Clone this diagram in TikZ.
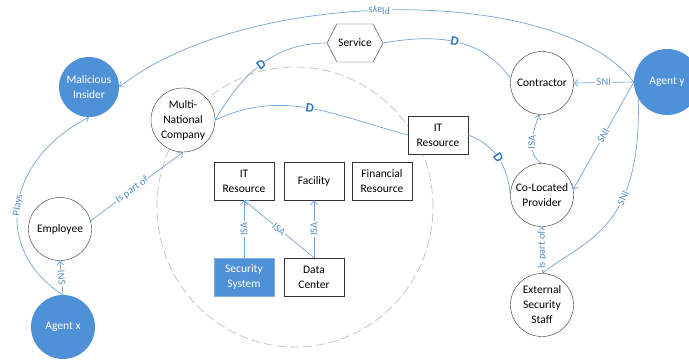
\documentclass[tikz,border=0pt]{standalone}
\usepackage{fontspec}
\setmainfont{Carlito}
\usetikzlibrary{arrows.meta,shapes.symbols}
\definecolor{nblue}{RGB}{78,145,214}
\definecolor{eblue}{RGB}{115,163,216}
\definecolor{lblue}{RGB}{85,142,205}
\definecolor{dblue}{RGB}{46,117,190}
\begin{document}
\begin{tikzpicture}[x=1pt,y=-1pt,
  every node/.style={font=\fontsize{11.5}{15}\selectfont, align=center},
  circ/.style={circle, draw=black!80, fill=white, minimum size=63pt, inner sep=0pt},
  fcirc/.style={circle, fill=nblue, text=white, minimum size=64pt, inner sep=0pt},
  rbox/.style={rectangle, draw=black!80, fill=white, minimum width=60pt, minimum height=38pt, inner sep=1pt},
  conn/.style={draw=eblue, line width=0.7pt},
  arr/.style={conn, -{Straight Barb[length=4pt,width=7pt]}},
  lab/.style={font=\fontsize{10.5}{12}\selectfont, text=lblue, fill=white, inner sep=1pt, sloped},
  dlab/.style={font=\bfseries\fontsize{13}{14}\selectfont, text=dblue, fill=white, inner sep=0.5pt, sloped},
]
\useasboundingbox (0,0) rectangle (689,362);
\draw[draw=black!25, dash pattern=on 9pt off 4pt, line width=0.7pt] (295,207) ellipse [x radius=138pt, y radius=140pt];

\node[fcirc, minimum size=60pt] (mi) at (89,87) {Malicious\\Insider};
\node[circ, minimum size=64pt] (mnc) at (183,120) {Multi-\\National\\Company};
\node[signal, signal to=east and west, signal pointer angle=125, draw=black!80, fill=white, minimum width=56pt, minimum height=38pt, inner sep=0pt] (svc) at (355,43) {Service};
\node[circ] (con) at (542,83) {Contractor};
\node[fcirc, minimum size=66pt] (ay) at (667,82) {Agent y};
\node[rbox] (itr) at (438,135) {IT\\Resource};
\node[circ] (clp) at (542,195) {Co-Located\\Provider};
\node[circ] (ess) at (542,305) {External\\Security\\Staff};
\node[circ] (emp) at (60,229) {Employee};
\node[fcirc] (ax) at (63,327) {Agent x};
\node[rbox] (itr2) at (244,181) {IT\\Resource};
\node[rbox] (fac) at (314,181) {Facility};
\node[rbox] (fin) at (382,181) {Financial\\Resource};
\node[rbox, fill=nblue, draw=nblue!70, text=white] (sec) at (244,277) {Security\\System};
\node[rbox] (dc) at (314,277) {Data\\Center};

% Plays (top)
\draw[arr] (ay.west) .. controls (560,-15) and (250,-15) .. (mi.east)
  node[lab, allow upside down, pos=0.53] {Plays};
% D edges
\draw[conn] (svc.east) to[out=10, in=125] node[dlab, pos=0.5] {D} (con.172);
\draw[conn] (mnc.east) to[out=60, in=180] node[dlab, pos=0.5] {D} (svc.west);
\draw[conn] (mnc.east) to[out=25, in=165] node[dlab, pos=0.5] {D} (itr.west);
\draw[conn] (itr.east) to[out=-20, in=95] node[dlab, pos=0.5] {D} (clp.west);
% SNI
\draw[arr] (ay.west) -- (con.east) node[lab, midway] {SNI};
\draw[arr] (ay.west) -- (clp.10) node[lab, midway] {SNI};
\draw[arr] (ay.210) .. controls (642,230) and (585,240) .. (ess.north) node[lab, pos=0.35] {SNI};
% ISA co-located -> contractor
\draw[arr] (clp.north) to[out=150, in=-110] node[lab, pos=0.5] {ISA} (con.265);
% Is part of
\draw[arr] (ess.north) -- (clp.south) node[lab, midway] {Is part of};
\draw[arr] (emp.15) -- (mnc.south) node[lab, pos=0.45] {Is part of};
% Agent x
\draw[arr] (ax.north) -- (emp.south) node[lab, midway] {INS};
\draw[arr] (ax.north) .. controls (-8,250) and (5,160) .. (mi.south) node[lab, pos=0.5] {Plays};
% inner ISA
\draw[arr] (sec.north) -- (itr2.south) node[lab, midway] {ISA};
\draw[arr] (dc.north) -- (itr2.south) node[lab, midway] {ISA};
\draw[arr] (dc.north) -- (fac.south) node[lab, midway] {ISA};
\end{tikzpicture}
\end{document}
